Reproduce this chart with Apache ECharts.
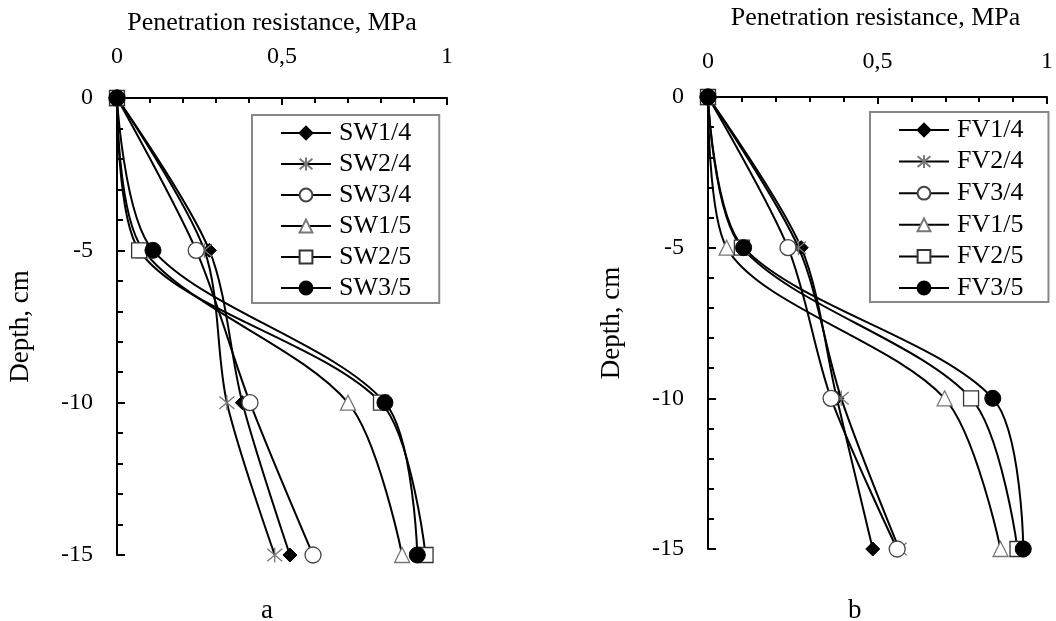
<!DOCTYPE html>
<html>
<head>
<meta charset="utf-8">
<script src="https://cdn.jsdelivr.net/npm/echarts@6/dist/echarts.min.js"></script>
<style>
html,body{margin:0;padding:0;background:#fff;}
#chart{width:1056px;height:621px;}
</style>
</head>
<body>
<div id="chart"></div>
<script>
// depth points (cm) and resistance values (MPa)
var depth = [0, -5, -10, -15];
var sw14 = [0, 0.28, 0.38, 0.524];
var sw24 = [0, 0.265, 0.333, 0.478];
var sw34 = [0, 0.24, 0.403, 0.594];
var sw15 = [0, 0.08, 0.70, 0.864];
var sw25 = [0, 0.067, 0.80, 0.935];
var sw35 = [0, 0.109, 0.812, 0.91];
var fv14 = [0, 0.275, 0.38, 0.486];
var fv24 = [0, 0.267, 0.393, 0.564];
var fv34 = [0, 0.236, 0.363, 0.558];
var fv15 = [0, 0.055, 0.698, 0.863];
var fv25 = [0, 0.10, 0.776, 0.913];
var fv35 = [0, 0.105, 0.84, 0.93];
var namesA = ["SW1/4", "SW2/4", "SW3/4", "SW1/5", "SW2/5", "SW3/5"];
var namesB = ["FV1/4", "FV2/4", "FV3/4", "FV1/5", "FV2/5", "FV3/5"];

var font = "'Liberation Serif', 'Times New Roman', serif";
var star = "path://M0,0L10,10M10,0L0,10M5,-1L5,11";

// marker styles, same order as the names
var marks = [
  {symbol: "diamond", size: 14, item: {color: "#000", borderColor: "#000", borderWidth: 1}},
  {symbol: star, size: 15, item: {color: "#fff", borderColor: "#777", borderWidth: 1.3}},
  {symbol: "circle", size: 16, item: {color: "#fff", borderColor: "#444", borderWidth: 1.3}},
  {symbol: "triangle", size: 15, item: {color: "#fff", borderColor: "#777", borderWidth: 1.3}},
  {symbol: "rect", size: 15, item: {color: "#fff", borderColor: "#333", borderWidth: 1.3}},
  {symbol: "circle", size: 16, item: {color: "#000", borderColor: "#000", borderWidth: 1}}
];

function pairs(xs){
  return xs.map(function(v, i){ return [v, depth[i]]; });
}

function makeSeries(names, lists, idx){
  return names.map(function(n, i){
    return {
      name: n,
      type: "line",
      xAxisIndex: idx,
      yAxisIndex: idx,
      smooth: 0.3,
      data: pairs(lists[i]),
      symbol: marks[i].symbol,
      symbolSize: marks[i].size,
      showAllSymbol: true,
      lineStyle: {color: "#000", width: 2},
      itemStyle: marks[i].item,
      emphasis: {disabled: true}
    };
  });
}

function xAxis(idx){
  return {
    gridIndex: idx,
    type: "value",
    position: "top",
    min: 0, max: 1, interval: 0.5,
    name: "Penetration resistance, MPa",
    nameLocation: "middle",
    nameGap: idx == 0 ? 62 : 66,
    nameTextStyle: {fontFamily: font, fontSize: 26, color: "#000",
      padding: idx == 0 ? [0, 20, 0, 0] : [0, 4, 0, 0]},
    axisLine: {lineStyle: {color: "#000", width: 2}},
    axisTick: {inside: true, length: 7, lineStyle: {color: "#000", width: 2}},
    minorTick: {show: true, splitNumber: 5, length: 5, lineStyle: {color: "#000", width: 2}},
    splitLine: {show: false},
    axisLabel: {fontFamily: font, fontSize: 24, color: "#000", margin: idx == 0 ? 29 : 23,
      formatter: function(v){ return String(v).replace(".", ","); }}
  };
}

function yAxis(idx){
  return {
    gridIndex: idx,
    type: "value",
    min: -15, max: 0, interval: 5,
    name: "Depth, cm",
    nameLocation: "middle",
    nameRotate: 90,
    nameGap: 83,
    nameTextStyle: {fontFamily: font, fontSize: 27, color: "#000"},
    axisLine: {onZero: false, lineStyle: {color: "#000", width: 2}},
    axisTick: {inside: true, length: 8, lineStyle: {color: "#000", width: 2}},
    minorTick: {show: true, splitNumber: 5, length: 6, lineStyle: {color: "#000", width: 2}},
    splitLine: {show: false},
    axisLabel: {fontFamily: font, fontSize: 24, color: "#000", margin: 24}
  };
}

function legend(names, left, top, gap, padding){
  return {
    data: names,
    orient: "vertical",
    left: left,
    top: top,
    itemWidth: 50,
    itemHeight: 16,
    itemGap: gap,
    padding: padding,
    borderColor: "#888",
    borderWidth: 2,
    textStyle: {fontFamily: font, fontSize: 26, color: "#000", lineHeight: 26, padding: [0, 0, 0, 3]}
  };
}

var chart = echarts.init(document.getElementById("chart"));
chart.setOption({
  animation: false,
  backgroundColor: "#fff",
  title: [
    {text: "a", left: 256, top: 592, textStyle: {fontFamily: font, fontSize: 27, fontWeight: "normal", color: "#000"}},
    {text: "b", left: 843, top: 592, textStyle: {fontFamily: font, fontSize: 27, fontWeight: "normal", color: "#000"}}
  ],
  grid: [
    {left: 117, width: 330, top: 98, height: 457},
    {left: 708, width: 344, top: 97, height: 452}
  ],
  xAxis: [xAxis(0), xAxis(1)],
  yAxis: [yAxis(0), yAxis(1)],
  legend: [
    legend(namesA, 252, 115, 5, [5, 28, 2, 28]),
    legend(namesB, 870, 112, 5.6, [5, 25, 1, 28])
  ],
  series: makeSeries(namesA, [sw14, sw24, sw34, sw15, sw25, sw35], 0)
    .concat(makeSeries(namesB, [fv14, fv24, fv34, fv15, fv25, fv35], 1))
});
</script>
</body>
</html>
